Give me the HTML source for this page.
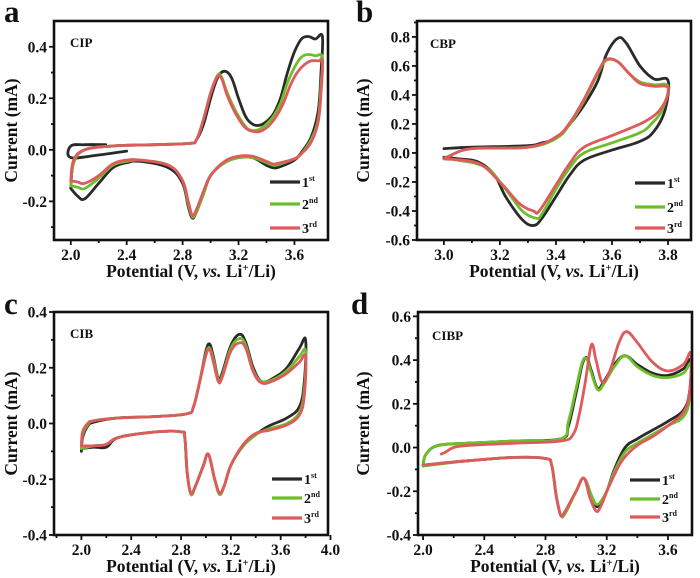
<!DOCTYPE html>
<html><head><meta charset="utf-8">
<style>
html,body{margin:0;padding:0;background:#fff;}
svg{display:block;}
text{font-family:"Liberation Serif",serif;font-weight:bold;fill:#111;}
</style></head>
<body>
<svg id="fig" width="700" height="578" viewBox="0 0 700 578" xmlns="http://www.w3.org/2000/svg"></svg>
<script>
// ---- Panel a: CIP ----
const cipCycle1Start = [[2.4,-0.005],[2.2,-0.02],[2.0,-0.03],[2.0,0.015],[2.1,0.02],[2.25,0.02]];
const cipCycle1 = [[2.0,-0.15],[2.02,-0.05],[2.1,0.0],[2.3,0.015],[2.6,0.02],[2.85,0.025],[2.9,0.04],[2.95,0.1],[3.0,0.2],[3.05,0.28],[3.1,0.305],[3.15,0.28],[3.2,0.2],[3.25,0.13],[3.3,0.1],[3.35,0.095],[3.4,0.11],[3.45,0.14],[3.5,0.2],[3.55,0.3],[3.6,0.38],[3.65,0.43],[3.7,0.44],[3.75,0.43],[3.8,0.44],
 [3.79,0.3],[3.77,0.15],[3.72,0.05],[3.65,-0.01],[3.6,-0.04],[3.5,-0.065],[3.45,-0.07],[3.4,-0.06],[3.3,-0.03],[3.2,-0.03],[3.1,-0.05],[3.0,-0.1],[2.95,-0.17],[2.9,-0.24],[2.87,-0.265],[2.84,-0.22],[2.8,-0.13],[2.7,-0.07],[2.5,-0.045],[2.4,-0.05],[2.3,-0.07],[2.2,-0.13],[2.1,-0.19],[2.05,-0.18],[2.0,-0.15]];
const cipCycle2 = [[2.0,-0.14],[2.02,-0.05],[2.1,0.0],[2.3,0.015],[2.6,0.02],[2.85,0.025],[2.9,0.04],[2.95,0.12],[3.0,0.22],[3.05,0.29],[3.08,0.28],[3.12,0.22],[3.18,0.15],[3.25,0.09],[3.3,0.075],[3.35,0.08],[3.4,0.1],[3.45,0.13],[3.5,0.18],[3.55,0.26],[3.6,0.32],[3.65,0.36],[3.7,0.37],[3.75,0.365],[3.8,0.36],
 [3.79,0.25],[3.77,0.12],[3.72,0.04],[3.65,-0.015],[3.6,-0.035],[3.5,-0.055],[3.45,-0.06],[3.4,-0.05],[3.3,-0.03],[3.2,-0.03],[3.1,-0.05],[3.0,-0.1],[2.95,-0.17],[2.9,-0.24],[2.87,-0.26],[2.84,-0.21],[2.8,-0.12],[2.7,-0.06],[2.5,-0.04],[2.4,-0.045],[2.3,-0.06],[2.2,-0.11],[2.1,-0.15],[2.05,-0.145],[2.0,-0.14]];
const cipCycle3 = [[2.0,-0.12],[2.02,-0.04],[2.1,0.0],[2.3,0.015],[2.6,0.02],[2.85,0.025],[2.9,0.04],[2.95,0.12],[3.0,0.22],[3.05,0.285],[3.08,0.275],[3.12,0.21],[3.18,0.14],[3.25,0.085],[3.32,0.07],[3.37,0.075],[3.42,0.095],[3.47,0.13],[3.52,0.18],[3.57,0.25],[3.62,0.3],[3.67,0.33],[3.72,0.345],[3.77,0.345],[3.8,0.34],
 [3.79,0.22],[3.77,0.11],[3.72,0.03],[3.65,-0.015],[3.6,-0.035],[3.5,-0.05],[3.45,-0.055],[3.4,-0.045],[3.3,-0.025],[3.2,-0.025],[3.1,-0.045],[3.0,-0.1],[2.95,-0.16],[2.9,-0.23],[2.87,-0.255],[2.84,-0.2],[2.8,-0.12],[2.7,-0.06],[2.5,-0.04],[2.4,-0.04],[2.3,-0.055],[2.2,-0.1],[2.1,-0.13],[2.05,-0.125],[2.0,-0.12]];
// ---- Panel b: CBP ----
const cbpCycle1 = [[3.0,0.03],[3.1,0.04],[3.3,0.05],[3.35,0.07],[3.4,0.1],[3.45,0.2],[3.5,0.33],[3.55,0.5],[3.58,0.68],[3.62,0.79],[3.65,0.76],[3.7,0.6],[3.75,0.51],[3.8,0.5],
 [3.79,0.3],[3.75,0.15],[3.7,0.08],[3.6,0.02],[3.5,-0.05],[3.45,-0.15],[3.4,-0.3],[3.35,-0.45],[3.32,-0.5],[3.28,-0.46],[3.22,-0.3],[3.18,-0.15],[3.12,-0.06],[3.05,-0.04],[3.0,-0.03]];
const cbpCycle2 = [[3.0,-0.04],[3.02,-0.02],[3.1,0.03],[3.3,0.04],[3.4,0.1],[3.45,0.2],[3.5,0.36],[3.55,0.55],[3.58,0.64],[3.62,0.63],[3.66,0.55],[3.7,0.49],[3.75,0.47],[3.8,0.46],
 [3.78,0.3],[3.74,0.2],[3.7,0.14],[3.6,0.07],[3.5,0.0],[3.45,-0.1],[3.4,-0.25],[3.35,-0.42],[3.33,-0.45],[3.28,-0.4],[3.22,-0.25],[3.15,-0.1],[3.05,-0.05],[3.0,-0.04]];
const cbpCycle3 = [[3.0,-0.04],[3.02,-0.02],[3.1,0.03],[3.3,0.04],[3.4,0.11],[3.45,0.21],[3.5,0.37],[3.55,0.56],[3.58,0.645],[3.62,0.63],[3.66,0.55],[3.7,0.48],[3.75,0.46],[3.8,0.45],
 [3.78,0.32],[3.72,0.22],[3.6,0.12],[3.5,0.04],[3.45,-0.07],[3.4,-0.22],[3.34,-0.4],[3.32,-0.4],[3.27,-0.35],[3.2,-0.2],[3.12,-0.07],[3.0,-0.04]];
// ---- Panel c: CIB ----
const cibCycle1 = [[2.0,-0.1],[2.01,-0.05],[2.05,-0.01],[2.1,0.005],[2.3,0.02],[2.6,0.025],[2.85,0.035],[2.9,0.06],[2.95,0.15],[3.0,0.26],[3.03,0.285],[3.06,0.24],[3.1,0.16],[3.13,0.18],[3.2,0.28],[3.27,0.32],[3.32,0.29],[3.38,0.2],[3.45,0.15],[3.55,0.165],[3.65,0.2],[3.75,0.27],[3.8,0.3],
 [3.79,0.15],[3.75,0.06],[3.65,0.02],[3.5,-0.01],[3.4,-0.04],[3.3,-0.08],[3.2,-0.15],[3.15,-0.22],[3.11,-0.25],[3.07,-0.2],[3.02,-0.11],[2.98,-0.15],[2.92,-0.22],[2.88,-0.25],[2.85,-0.18],[2.83,-0.05],[2.8,-0.03],[2.6,-0.03],[2.3,-0.05],[2.2,-0.085],[2.1,-0.085],[2.0,-0.09]];
const cibCycle2 = [[2.0,-0.09],[2.01,-0.04],[2.05,-0.005],[2.1,0.01],[2.3,0.02],[2.6,0.025],[2.85,0.035],[2.9,0.06],[2.95,0.15],[3.0,0.25],[3.03,0.27],[3.06,0.23],[3.1,0.155],[3.13,0.17],[3.2,0.27],[3.27,0.305],[3.32,0.28],[3.38,0.19],[3.45,0.15],[3.55,0.16],[3.65,0.19],[3.75,0.24],[3.8,0.26],
 [3.79,0.12],[3.75,0.04],[3.65,0.0],[3.5,-0.02],[3.4,-0.04],[3.3,-0.08],[3.2,-0.15],[3.15,-0.22],[3.11,-0.255],[3.07,-0.2],[3.02,-0.11],[2.98,-0.15],[2.92,-0.22],[2.88,-0.255],[2.85,-0.18],[2.83,-0.05],[2.8,-0.03],[2.6,-0.03],[2.3,-0.05],[2.2,-0.075],[2.1,-0.08],[2.0,-0.09]];
const cibCycle3 = [[2.0,-0.08],[2.01,-0.03],[2.05,0.0],[2.1,0.01],[2.3,0.02],[2.6,0.025],[2.85,0.035],[2.9,0.06],[2.95,0.15],[3.0,0.245],[3.03,0.265],[3.06,0.22],[3.1,0.15],[3.13,0.165],[3.2,0.26],[3.27,0.29],[3.32,0.27],[3.38,0.185],[3.45,0.145],[3.55,0.155],[3.65,0.18],[3.75,0.22],[3.8,0.24],
 [3.79,0.1],[3.75,0.03],[3.65,-0.005],[3.5,-0.025],[3.4,-0.035],[3.3,-0.075],[3.2,-0.15],[3.15,-0.22],[3.11,-0.25],[3.07,-0.2],[3.02,-0.11],[2.98,-0.15],[2.92,-0.22],[2.88,-0.25],[2.85,-0.18],[2.83,-0.05],[2.8,-0.03],[2.6,-0.03],[2.3,-0.05],[2.2,-0.075],[2.1,-0.08],[2.0,-0.08]];
// ---- Panel d: CIBP ----
const cibpCycle1 = [[2.0,-0.08],[2.02,-0.03],[2.1,0.01],[2.3,0.02],[2.6,0.03],[2.9,0.04],[2.95,0.1],[3.0,0.25],[3.04,0.38],[3.07,0.41],[3.1,0.35],[3.14,0.27],[3.18,0.3],[3.25,0.38],[3.32,0.42],[3.4,0.38],[3.5,0.34],[3.6,0.33],[3.7,0.36],[3.75,0.4],
 [3.74,0.25],[3.7,0.17],[3.6,0.12],[3.5,0.08],[3.4,0.04],[3.32,0.0],[3.25,-0.1],[3.2,-0.2],[3.14,-0.27],[3.1,-0.22],[3.05,-0.14],[3.0,-0.2],[2.93,-0.29],[2.9,-0.31],[2.87,-0.22],[2.84,-0.08],[2.8,-0.05],[2.6,-0.045],[2.3,-0.06],[2.0,-0.08]];
const cibpCycle2 = [[2.0,-0.085],[2.02,-0.03],[2.1,0.01],[2.3,0.02],[2.6,0.03],[2.9,0.04],[2.95,0.12],[3.0,0.27],[3.04,0.39],[3.07,0.405],[3.1,0.34],[3.14,0.265],[3.18,0.29],[3.25,0.37],[3.32,0.42],[3.4,0.37],[3.5,0.33],[3.6,0.32],[3.7,0.34],[3.75,0.38],
 [3.74,0.22],[3.7,0.14],[3.6,0.1],[3.5,0.06],[3.4,0.02],[3.32,-0.02],[3.25,-0.11],[3.2,-0.2],[3.14,-0.26],[3.1,-0.22],[3.05,-0.14],[3.0,-0.2],[2.93,-0.3],[2.9,-0.31],[2.87,-0.22],[2.84,-0.08],[2.8,-0.05],[2.6,-0.045],[2.3,-0.06],[2.0,-0.085]];
const cibpCycle3 = [[2.12,-0.03],[2.15,-0.02],[2.2,0.0],[2.3,0.01],[2.6,0.02],[2.9,0.03],[2.98,0.06],[3.02,0.15],[3.06,0.3],[3.1,0.47],[3.13,0.4],[3.17,0.3],[3.22,0.35],[3.28,0.48],[3.33,0.53],[3.4,0.48],[3.5,0.39],[3.6,0.35],[3.7,0.38],[3.75,0.43],
 [3.74,0.25],[3.7,0.16],[3.6,0.1],[3.5,0.05],[3.4,0.01],[3.3,-0.06],[3.22,-0.17],[3.16,-0.27],[3.13,-0.29],[3.09,-0.23],[3.05,-0.14],[3.0,-0.2],[2.93,-0.29],[2.9,-0.31],[2.87,-0.22],[2.84,-0.08],[2.8,-0.05],[2.6,-0.045],[2.3,-0.06],[2.0,-0.08]];

const legendLabels = ["1","2","3"];
const legendSups = ["st","nd","rd"];
const xTicksA = [2.0,2.4,2.8,3.2,3.6];
const yTicksA = [-0.2,0.0,0.2,0.4];
const xTicksB = [3.0,3.2,3.4,3.6,3.8];
const yTicksB = [-0.6,-0.4,-0.2,0.0,0.2,0.4,0.6,0.8];
const xTicksC = [2.0,2.4,2.8,3.2,3.6,4.0];
const yTicksC = [-0.4,-0.2,0.0,0.2,0.4];
const xTicksD = [2.0,2.4,2.8,3.2,3.6];
const yTicksD = [-0.4,-0.2,0.0,0.2,0.4,0.6];

const NS="http://www.w3.org/2000/svg";
const svg=document.getElementById('fig');
const COLORS=["#2a2a2a","#6cbf2a","#df5a5c"];
function mk(tag,attrs,parent){const e=document.createElementNS(NS,tag);for(const k in attrs)e.setAttribute(k,attrs[k]);(parent||svg).appendChild(e);return e;}
function smoothPath(pts){
  let d='M'+pts[0][0].toFixed(1)+','+pts[0][1].toFixed(1);
  for(let i=0;i<pts.length-1;i++){
    const p0=pts[Math.max(0,i-1)],p1=pts[i],p2=pts[i+1],p3=pts[Math.min(pts.length-1,i+2)];
    const t=0.18;
    const c1=[p1[0]+(p2[0]-p0[0])*t,p1[1]+(p2[1]-p0[1])*t];
    const c2=[p2[0]-(p3[0]-p1[0])*t,p2[1]-(p3[1]-p1[1])*t];
    d+='C'+c1[0].toFixed(1)+','+c1[1].toFixed(1)+' '+c2[0].toFixed(1)+','+c2[1].toFixed(1)+' '+p2[0].toFixed(1)+','+p2[1].toFixed(1);
  }
  return d;
}

function panel(o){
  const g=mk('g',{});
  
  
  const X=v=>o.L+(v-o.x0)/(o.x1-o.x0)*(o.R-o.L);
  const Y=v=>o.B-(v-o.y0)/(o.y1-o.y0)*(o.B-o.T);
  const tg=mk('g',{stroke:'#111','stroke-width':1.8},g);
  
  
  for(let i=0;i<o.xt.length;i++){
    const v=o.xt[i];const x=X(v);
    mk('line',{x1:x,x2:x,y1:o.B,y2:o.B+5},tg);
    const t=mk('text',{x:x,y:o.B+20,'text-anchor':'middle','font-size':15.5},g);
    t.textContent=v.toFixed(1);
    
    
    if(i<o.xt.length-1){const xm=X(v+o.xs/2);if(xm<o.R)mk('line',{x1:xm,x2:xm,y1:o.B,y2:o.B+3},tg);}
  }
  if(X(o.xt[0]-o.xs/2)>o.L){const xm=X(o.xt[0]-o.xs/2);mk('line',{x1:xm,x2:xm,y1:o.B,y2:o.B+3},tg);}
  for(let i=0;i<o.yt.length;i++){
    const v=o.yt[i];const y=Y(v);
    mk('line',{x1:o.L-5,x2:o.L,y1:y,y2:y},tg);
    const t=mk('text',{x:o.L-7,y:y+5.5,'text-anchor':'end','font-size':15.5},g);
    t.textContent=v.toFixed(1);
    
    
    const ym=Y(v+o.ys/2);if(ym>o.T)mk('line',{x1:o.L-3,x2:o.L,y1:ym,y2:ym},tg);
  }
  const ym0=Y(o.yt[0]-o.ys/2);if(ym0<o.B)mk('line',{x1:o.L-3,x2:o.L,y1:ym0,y2:ym0},tg);
  const cg=mk('g',{fill:'none','stroke-width':2.8,'stroke-linejoin':'round','stroke-linecap':'round'},g);
  o.series.forEach((s,i)=>{
    s.forEach(arr=>{
      const p=mk('path',{d:smoothPath(arr.map(q=>[X(q[0]),Y(q[1])])),stroke:COLORS[i]},cg);
      
      
    });
  });
  const f=mk('rect',{x:o.L,y:o.T,width:o.R-o.L,height:o.B-o.T,fill:'none',stroke:'#111','stroke-width':2.6},g);
  
  
  const sl=mk('text',{x:o.sx,y:o.sy,'font-size':13},g);
  sl.textContent=o.name;
  
  
  const pl=mk('text',{x:o.px,y:o.py,'font-size':31},g);
  pl.textContent=o.id;
  
  
  for(let i=0;i<3;i++){
    const ly=o.ly[i];
    const lg=mk('g',{},g);
    
    
    mk('line',{x1:o.lx,x2:o.lx+30,y1:ly,y2:ly,stroke:COLORS[i],'stroke-width':3.2},lg);
    const t=mk('text',{x:o.lx+32,y:ly+5,'font-size':14},lg);
    t.textContent=legendLabels[i];
    const ts=mk('tspan',{'font-size':8,dy:-6},t);
    ts.textContent=legendSups[i];
  }
  const cx=(o.L+o.R)/2;
  const xt=mk('text',{x:cx,y:o.B+37,'text-anchor':'middle','font-size':17.5},g);
  
  
  xt.innerHTML='Potential (V, <tspan font-style="italic">vs.</tspan> Li<tspan font-size="11" dy="-6">+</tspan><tspan dy="6">/Li)</tspan>';
  const cy=(o.T+o.B)/2;
  const yt=mk('text',{x:0,y:0,'text-anchor':'middle','font-size':17.5,transform:'translate('+o.yx+','+cy+') rotate(-90)'},g);
  yt.textContent='Current (mA)';
  
  
}

panel({id:'a',name:'CIP',L:54,R:328,T:21,B:240,x0:1.88,x1:3.84,y0:-0.35,y1:0.5,xt:xTicksA,xs:0.4,yt:yTicksA,ys:0.2,
  series:[[cipCycle1Start,cipCycle1],[cipCycle2],[cipCycle3]],sx:70,sy:47,px:4,py:22,lx:270,ly:[182,204,228],yx:17});
panel({id:'b',name:'CBP',L:417,R:691,T:21,B:240,x0:2.904,x1:3.882,y0:-0.6,y1:0.91,xt:xTicksB,xs:0.2,yt:yTicksB,ys:0.2,
  series:[[cbpCycle1],[cbpCycle2],[cbpCycle3]],sx:430,sy:48,px:356,py:22,lx:635,ly:[183,207,228],yx:369});
panel({id:'c',name:'CIB',L:54,R:328,T:312,B:535,x0:1.78,x1:3.98,y0:-0.4,y1:0.4,xt:xTicksC,xs:0.4,yt:yTicksC,ys:0.2,
  series:[[cibCycle1],[cibCycle2],[cibCycle3]],sx:70,sy:338,px:4,py:314,lx:272,ly:[479,498,518],yx:17});
panel({id:'d',name:'CIBP',L:418,R:692,T:312,B:535,x0:1.967,x1:3.757,y0:-0.4,y1:0.62,xt:xTicksD,xs:0.4,yt:yTicksD,ys:0.2,
  series:[[cibpCycle1],[cibpCycle2],[cibpCycle3]],sx:432,sy:340,px:351,py:314,lx:630,ly:[480,499,517],yx:369});
</script>
</body></html>
